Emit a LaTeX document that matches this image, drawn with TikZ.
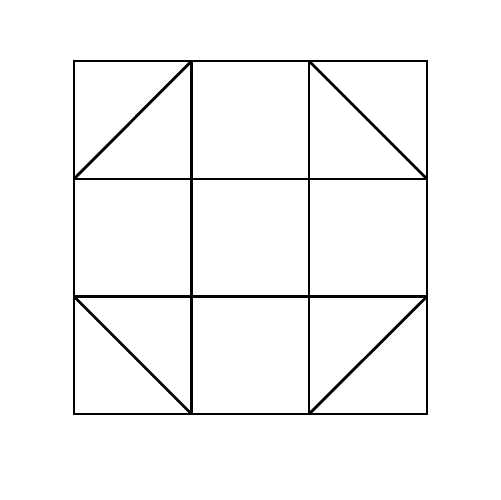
\documentclass[tikz,border=0pt]{standalone}
\begin{document}
\begin{tikzpicture}[x=0.02cm,y=-0.02cm,gridline/.style={line width=1.6pt,black}]
\useasboundingbox (0,0) rectangle (500,500);
\coordinate (a0) at (74,61);
\coordinate (b0) at (191.5,61);
\coordinate (c0) at (309,61);
\coordinate (d0) at (427,61);
\coordinate (a1) at (74,179);
\coordinate (b1) at (191.5,179);
\coordinate (c1) at (309,179);
\coordinate (d1) at (427,179);
\coordinate (a2) at (74,296.5);
\coordinate (b2) at (191.5,296.5);
\coordinate (c2) at (309,296.5);
\coordinate (d2) at (427,296.5);
\coordinate (a3) at (74,414);
\coordinate (b3) at (191.5,414);
\coordinate (c3) at (309,414);
\coordinate (d3) at (427,414);
\draw[gridline] (a0) rectangle (d3);
\draw[gridline] (b0) -- (b3);
\draw[gridline] (c0) -- (c3);
\draw[gridline] (a1) -- (d1);
\draw[gridline] (a2) -- (d2);
\draw[gridline] (a1) -- (b0);
\draw[gridline] (c0) -- (d1);
\draw[gridline] (a2) -- (b3);
\draw[gridline] (c3) -- (d2);
\end{tikzpicture}
\end{document}
